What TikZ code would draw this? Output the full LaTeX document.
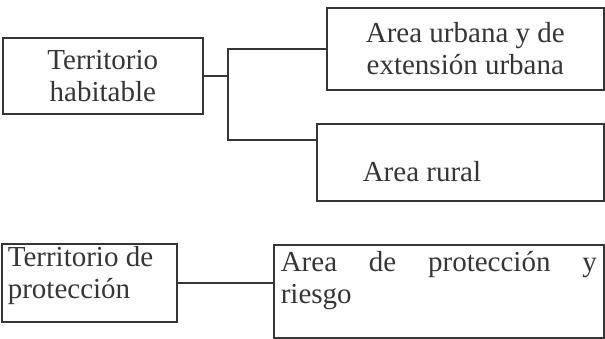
\documentclass[tikz,border=0pt]{standalone}
\usepackage{fontspec}
\setmainfont{Liberation Serif}
\usetikzlibrary{positioning,calc}
\definecolor{ink}{HTML}{363636}

\begin{document}
\begin{tikzpicture}[x=1pt,y=-1pt,
  box/.style={draw=ink,line width=1.6pt,anchor=north west,inner ysep=0pt,text=ink,font=\fontsize{29}{32}\selectfont},
  link/.style={draw=ink,line width=1.6pt}]
\useasboundingbox (0,0) rectangle (605,339);
\node[box,minimum width=200pt,minimum height=76pt,inner xsep=5pt] (0) at (2,37) {\begin{minipage}{190pt}\centering Territorio\\habitable\end{minipage}};
\node[box,minimum width=277pt,minimum height=82pt,inner xsep=5pt] (1) at (326,7) {\begin{minipage}{267pt}\centering Area urbana y de\\extensión urbana\end{minipage}};
\node[box,minimum width=287pt,minimum height=77pt,inner xsep=46pt] (2) at (316,123) {\raisebox{-9pt}[\height][\depth]{\begin{minipage}{195pt}Area rural\end{minipage}}};
\node[box,minimum width=175pt,minimum height=78pt,inner xsep=6pt] (3) at (1,243) {\raisebox{7pt}[\height][\depth]{\begin{minipage}{163pt}Territorio de\\protección\end{minipage}}};
\node[box,minimum width=330pt,minimum height=93pt,inner xsep=7pt] (4) at (273,244) {\raisebox{11pt}[\height][\depth]{\begin{minipage}{316pt}\makebox[\linewidth][s]{Area de protección y}\\riesgo\end{minipage}}};
\coordinate (fork) at (228,0);
\coordinate (2a) at ([yshift=-17pt]2.north west);
\draw[link](0.east)--(0.east -| fork);
\draw[link](1.west)--(1.west -| fork)--(fork |- 2a)--(2a);
\draw[link](3.east)--(3.east -| 4.west);
\end{tikzpicture}
\end{document}
